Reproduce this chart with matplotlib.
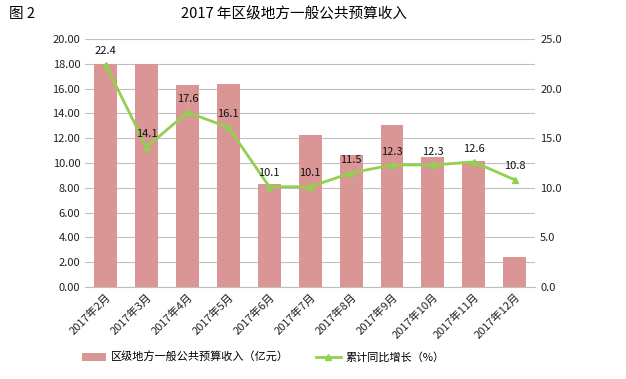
import numpy as np
import matplotlib.pyplot as plt
from matplotlib.ticker import FormatStrFormatter

plt.rcParams['font.family'] = ['Noto Sans CJK SC', 'DejaVu Sans']

# Chart data
months = ["2017年2月", "2017年3月", "2017年4月", "2017年5月", "2017年6月", "2017年7月",
          "2017年8月", "2017年9月", "2017年10月", "2017年11月", "2017年12月"]
revenue = [18.0, 17.95, 16.3, 16.4, 8.3, 12.25, 10.65, 13.1, 10.5, 10.15, 2.45]
growth = [22.4, 14.1, 17.6, 16.1, 10.1, 10.1, 11.5, 12.3, 12.3, 12.6, 10.8]

bar_color = "#D99694"
line_color = "#92D050"

fig = plt.figure(figsize=(6.26, 3.79), dpi=100)
ax = fig.add_axes([0.136, 0.243, 0.719, 0.654])
ax2 = ax.twinx()

x = np.arange(len(months))
bars = ax.bar(x, revenue, width=0.56, color=bar_color, zorder=2,
              label="区级地方一般公共预算收入（亿元）")
line, = ax2.plot(x, growth, color=line_color, linewidth=2, marker="^",
                 markersize=5, zorder=3, label="累计同比增长（%）")

for xi, g in zip(x, growth):
    ax2.annotate(f"{g:.1f}", (xi, g), xytext=(0, 6), textcoords="offset points",
                 ha="center", va="bottom", fontsize=8, color="#111111")

ax.set_xlim(-0.5, len(months) - 0.5)
ax.set_ylim(0, 20)
ax.set_yticks(np.arange(0, 20.01, 2))
ax.yaxis.set_major_formatter(FormatStrFormatter("%.2f"))
ax2.set_ylim(0, 25)
ax2.set_yticks(np.arange(0, 25.01, 5))
ax2.yaxis.set_major_formatter(FormatStrFormatter("%.1f"))

ax.grid(axis="y", color="#BFBFBF", linewidth=0.8, zorder=0)
ax.set_axisbelow(True)
for a in (ax, ax2):
    for s in a.spines.values():
        s.set_visible(False)
    a.tick_params(length=0, labelsize=8, colors="#222222")
ax.spines["bottom"].set_visible(True)
ax.spines["bottom"].set_color("#BFBFBF")

ax.set_xticks(x)
ax.set_xticklabels(months, rotation=45, ha="right", rotation_mode="anchor", fontsize=8)

fig.text(0.015, 0.962, "图 2", fontsize=10.5, va="center")
fig.text(0.47, 0.962, "2017 年区级地方一般公共预算收入", fontsize=10.5, ha="center", va="center")

fig.legend([bars, line], [bars.get_label(), line.get_label()], loc="center",
           bbox_to_anchor=(0.42, 0.058), ncol=2, frameon=False, fontsize=8,
           handlelength=2.2, handletextpad=0.4, columnspacing=2.5)

fig.savefig("out.png", dpi=100)
